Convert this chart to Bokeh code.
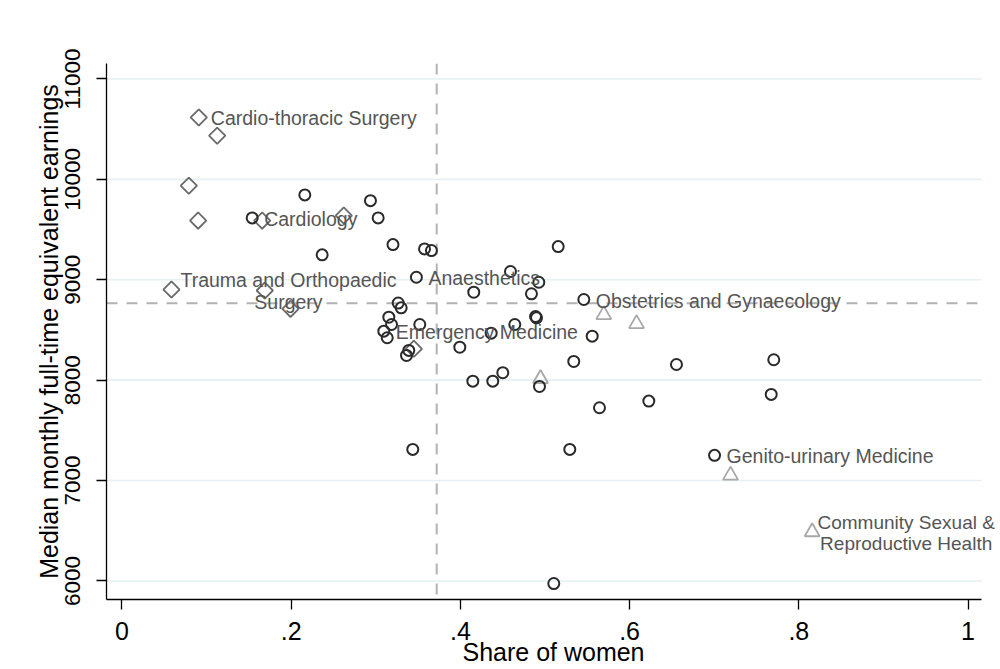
from bokeh.plotting import figure
from bokeh.models import ColumnDataSource, LabelSet, Label, Span, FixedTicker, Range1d
from bokeh.core.properties import value
from bokeh.embed import file_html
from bokeh.resources import INLINE

# ---- data ----
circle_x = [0.2161, 0.1539, 0.2937, 0.3028, 0.2366, 0.3203, 0.3576, 0.3658, 0.3480, 0.3265,
            0.3300, 0.3154, 0.3186, 0.3520, 0.3095, 0.3135, 0.3390, 0.3363, 0.5156, 0.4592,
            0.4927, 0.4158, 0.4840, 0.5459, 0.4888, 0.4900, 0.4643, 0.4364, 0.5558, 0.3993,
            0.4147, 0.4383, 0.4501, 0.4935, 0.5340, 0.5644, 0.3437, 0.5293, 0.5104, 0.7704,
            0.6554, 0.7674, 0.6227, 0.7004]
circle_y = [9845, 9616, 9788, 9616, 9248, 9350, 9307, 9291, 9025, 8768,
            8720, 8627, 8554, 8554, 8488, 8422, 8296, 8246, 9330, 9082,
            8975, 8876, 8860, 8803, 8634, 8621, 8554, 8468, 8438, 8328,
            7990, 7990, 8074, 7937, 8186, 7725, 7310, 7310, 5974, 8203,
            8156, 7858, 7791, 7251]

diamond_x = [0.0908, 0.1125, 0.0790, 0.0900, 0.1657, 0.2622, 0.0585, 0.1688, 0.1992, 0.3450]
diamond_y = [10617, 10435, 9937, 9589, 9589, 9639, 8902, 8893, 8710, 8312]

triangle_x = [0.5695, 0.6082, 0.4947, 0.7193, 0.8158]
triangle_y = [8651, 8561, 8014, 7052, 6488]

label_text = ["Cardio-thoracic Surgery", "Cardiology", "Anaesthetics",
              "Obstetrics and Gynaecology", "Emergency Medicine", "Genito-urinary Medicine"]
label_x = [0.0908, 0.1539, 0.3480, 0.5459, 0.3095, 0.7004]
label_y = [10617, 9616, 9025, 8803, 8488, 7251]

multi_text = ["Trauma and Orthopaedic\nSurgery", "Community Sexual &\nReproductive Health"]
multi_x = [0.0585, 0.8158]
multi_y = [8902, 6488]
multi_offset = [117, 94]
multi_size = ["19.5px", "19px"]

mean_share = 0.372
mean_earnings = 8765

x_ticks = [0, 0.2, 0.4, 0.6, 0.8, 1]
x_tick_labels = ["0", ".2", ".4", ".6", ".8", "1"]
y_ticks = [6000, 7000, 8000, 9000, 10000, 11000]

# ---- layout constants ----
FONT = "Liberation Sans"
X_START, X_END = -0.0183, 1.0384
X_AXIS_END = 1.016
Y_START, Y_END = 5815, 11154

p = figure(width=1000, height=669, output_backend="svg", toolbar_location=None,
           x_range=Range1d(X_START, X_END), y_range=Range1d(Y_START, Y_END),
           min_border_left=106, min_border_top=63, min_border_right=0, min_border_bottom=70)
p.outline_line_color = None
p.background_fill_color = "white"
p.border_fill_color = "white"

# grid (drawn so that it stops where the x axis stops)
p.xgrid.grid_line_color = None
p.ygrid.grid_line_color = None
p.segment(x0=[X_START] * len(y_ticks), y0=y_ticks, x1=[X_AXIS_END] * len(y_ticks), y1=y_ticks,
          line_color="#e6eff1", line_width=1.6, level="underlay")

# reference lines
p.add_layout(Span(location=mean_share, dimension="height", line_color="#b2b2b2",
                  line_width=2, line_dash="11 9", level="underlay"))
p.segment(x0=[X_START], y0=[mean_earnings], x1=[X_AXIS_END], y1=[mean_earnings],
          line_color="#b2b2b2", line_width=2, line_dash="11 9", level="underlay")

# markers
p.scatter(triangle_x, triangle_y, marker="triangle", size=15, fill_color=None,
          line_color="#a8a8a8", line_width=1.8)
p.scatter(diamond_x, diamond_y, marker="square", angle=0.785398, size=11.5, fill_color=None,
          line_color="#6a6a6a", line_width=1.8)
p.scatter(circle_x, circle_y, marker="circle", size=11, fill_color=None,
          line_color="#2a2a2a", line_width=2)

# labels
src = ColumnDataSource(dict(x=label_x, y=label_y, t=label_text))
p.add_layout(LabelSet(x="x", y="y", text="t", source=src, x_offset=12, y_offset=-1,
                      text_font=value(FONT), text_font_size=value("19.5px"),
                      text_color="#555555", text_align="left", text_baseline="middle"))
for t, x, y, off, fs in zip(multi_text, multi_x, multi_y, multi_offset, multi_size):
    p.add_layout(Label(x=x, y=y, text=t, x_offset=off, y_offset=-1,
                       text_font=FONT, text_font_size=fs, text_color="#555555",
                       text_align="center", text_baseline="middle", text_line_height=1.0))

# axes
for ax in (p.xaxis[0], p.yaxis[0]):
    ax.axis_line_color = "black"
    ax.axis_line_width = 1.3
    ax.major_tick_line_color = "black"
    ax.major_tick_line_width = 1.3
    ax.major_tick_out = 10
    ax.major_tick_in = 0
    ax.minor_tick_line_color = None
    ax.major_label_text_font = FONT
    ax.major_label_text_color = "black"
    ax.axis_label_text_font = FONT
    ax.axis_label_text_font_style = "normal"
    ax.axis_label_text_color = "black"

p.xaxis.bounds = (X_START, X_AXIS_END)
p.xaxis.ticker = FixedTicker(ticks=x_ticks)
p.xaxis.major_label_overrides = dict(zip(x_ticks, x_tick_labels))
p.xaxis.major_label_text_font_size = "25px"
p.xaxis.major_label_standoff = 12
p.xaxis.axis_label = "Share of women"
p.xaxis.axis_label_text_font_size = "25px"
p.xaxis.axis_label_standoff = -5

p.yaxis.ticker = FixedTicker(ticks=y_ticks)
p.yaxis.major_label_orientation = "vertical"
p.yaxis.major_label_text_font_size = "22.5px"
p.yaxis.major_label_standoff = 16
p.yaxis.axis_label = "Median monthly full-time equivalent earnings"
p.yaxis.axis_label_text_font_size = "25px"
p.yaxis.axis_label_standoff = 0

open("out.html", "w").write(file_html(p, INLINE))
